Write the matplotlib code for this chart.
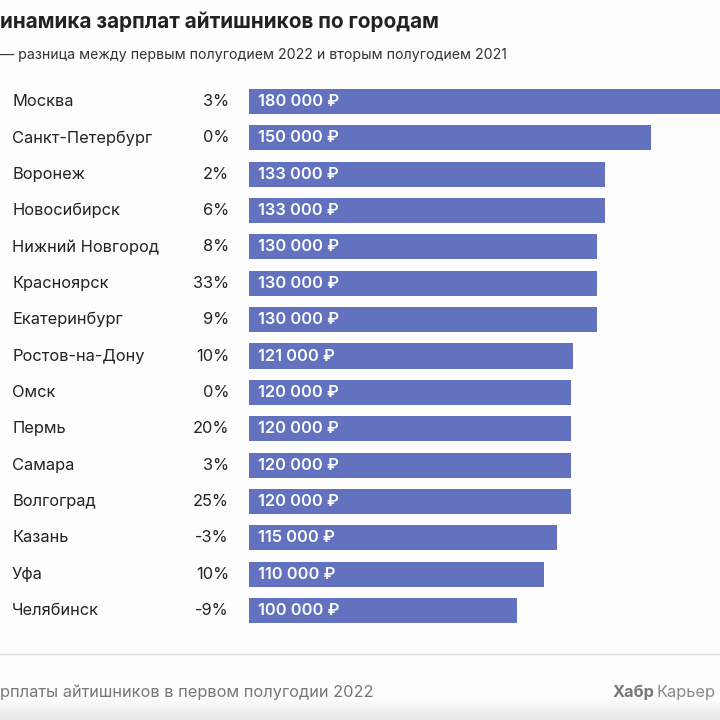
import matplotlib
matplotlib.use("Agg")
import matplotlib.pyplot as plt
import numpy as np
from matplotlib.transforms import blended_transform_factory

cities = ["Москва", "Санкт-Петербург", "Воронеж", "Новосибирск", "Нижний Новгород",
          "Красноярск", "Екатеринбург", "Ростов-на-Дону", "Омск", "Пермь",
          "Самара", "Волгоград", "Казань", "Уфа", "Челябинск"]
salaries = [180000, 150000, 133000, 133000, 130000, 130000, 130000, 121000,
            120000, 120000, 120000, 120000, 115000, 110000, 100000]
changes = ["3%", "0%", "2%", "6%", "8%", "33%", "9%", "10%", "0%", "20%",
           "3%", "25%", "-3%", "10%", "-9%"]

title = "инамика зарплат айтишников по городам"
subtitle = "— разница между первым полугодием 2022 и вторым полугодием 2021"
footer_left = "рплаты айтишников в первом полугодии 2022"

plt.rcParams['font.family'] = ['Inter', 'DejaVu Sans']

W = H = 720
fig = plt.figure(figsize=(7.2, 7.2), dpi=100)
fig.patch.set_facecolor("#fdfdfd")

bar_color = "#6272be"
text_color = "#222222"

x0 = 249 / W
ax = fig.add_axes([x0, 0, 1 - x0, 1])
ax.set_facecolor("none")
ax.set_xlim(0, 175750)
row = 36.36
ax.set_ylim((720 - 101.5) / row, -101.5 / row)
ax.axis("off")

y = np.arange(len(cities))
ax.barh(y, salaries, height=0.69, color=bar_color, left=0)

def fmt(v):
    return f"{v:,}".replace(",", " ") + " ₽"

tr = blended_transform_factory(fig.transFigure, ax.transData)
for i, (c, s, p) in enumerate(zip(cities, salaries, changes)):
    ax.text(12 / W, i, c, transform=tr, ha="left", va="center",
            fontsize=11.8, color=text_color)
    ax.text(229 / W, i, p, transform=tr, ha="right", va="center",
            fontsize=11.8, color=text_color)
    ax.text(258 / W, i, fmt(s), transform=tr, ha="left", va="center",
            fontsize=11.8, color="white", fontweight="semibold")

fig.text(0 / W, 1 - 22 / H, title, ha="left", va="center", fontsize=14.9,
         fontweight="bold", color=text_color)
fig.text(0 / W, 1 - 55 / H, subtitle, ha="left", va="center", fontsize=10.2,
         color="#333333")

# separator line
fig.add_artist(plt.Line2D([0, 1], [1 - 654 / H, 1 - 654 / H], color="#dddddd",
                          lw=1, transform=fig.transFigure))

# bottom gradient
gax = fig.add_axes([0, 0, 1, 22 / H])
grad = np.linspace(0, 1, 50).reshape(-1, 1)
gax.imshow(grad, aspect="auto", cmap=plt.matplotlib.colors.LinearSegmentedColormap.from_list(
    "g", ["#e6e6e6", "#fdfdfd"]), extent=[0, 1, 0, 1], origin="lower")
gax.axis("off")

fig.text(0 / W, 1 - 692 / H, footer_left, ha="left", va="center", fontsize=11.8,
         color="#777777")
fig.text(613 / W, 1 - 692 / H, "Хабр", ha="left", va="center", fontsize=11.8,
         color="#777777", fontweight="bold")
fig.text(657 / W, 1 - 692 / H, "Карьер", ha="left", va="center", fontsize=11.8,
         color="#888888")

fig.savefig("out.png", dpi=100, facecolor=fig.get_facecolor())
